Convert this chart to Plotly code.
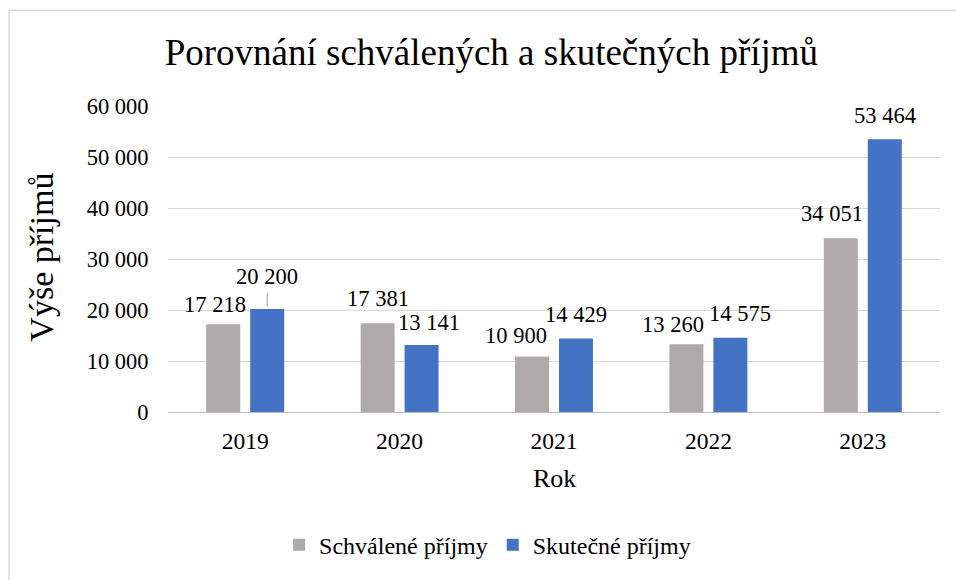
import plotly.graph_objects as go

years = ["2019", "2020", "2021", "2022", "2023"]
schvalene = [17218, 17381, 10900, 13260, 34051]
skutecne = [20200, 13141, 14429, 14575, 53464]
y_tick_vals = [0, 10000, 20000, 30000, 40000, 50000, 60000]
y_tick_text = ["0", "10 000", "20 000", "30 000", "40 000", "50 000", "60 000"]

title_text = "Porovnání schválených a skutečných příjmů"
series_names = ["Schválené příjmy", "Skutečné příjmy"]

GREY = "#AEAAAA"
BLUE = "#4472C4"
FONT = "Liberation Serif"
W, H = 956, 580
L, R, T, B = 168, 16, 106, 166
PLOT_H = H - T - B
Y_MAX = 60000

BAR_W = 0.22
HALF_GAP = 0.0324

# label nudges in pixels (dx, dy above bar top) — styling only
nudge_grey = [(-8, 20), (0, 25), (-16, 21), (-13, 20), (-9, 25)]
nudge_blue = [(0, 32), (7, 22), (0, 24), (10, 24), (0, 24)]


def fmt(v):
    return f"{v:,}".replace(",", " ")


fig = go.Figure()
fig.add_trace(go.Bar(x=years, y=schvalene, name=series_names[0], marker_color=GREY,
                     width=BAR_W, offset=-BAR_W - HALF_GAP, marker_line_width=0))
fig.add_trace(go.Bar(x=years, y=skutecne, name=series_names[1], marker_color=BLUE,
                     width=BAR_W, offset=HALF_GAP, marker_line_width=0))

px_per_cat = (W - L - R) / len(years)
bar_center = BAR_W / 2 + HALF_GAP
bar_center_px = bar_center * px_per_cat

annotations = []
for i, yr in enumerate(years):
    for vals, nud, sign in ((schvalene, nudge_grey, -1), (skutecne, nudge_blue, 1)):
        dx, dy = nud[i]
        annotations.append(dict(x=i, y=vals[i], xref="x", yref="y", text=fmt(vals[i]),
                                showarrow=False, xshift=sign * bar_center_px + dx, yshift=dy,
                                xanchor="center", yanchor="middle",
                                font=dict(family=FONT, size=22.5, color="#000")))

annotations.append(dict(text="Výše příjmů", xref="paper", yref="paper", x=-0.165,
                        y=(H - B - 258) / PLOT_H,
                        textangle=-90, showarrow=False, xanchor="center", yanchor="middle",
                        font=dict(family=FONT, size=34, color="#000")))
annotations.append(dict(text="Rok", xref="paper", yref="paper", x=0.5, y=-0.2175,
                        showarrow=False, xanchor="center", yanchor="middle",
                        font=dict(family=FONT, size=26, color="#000")))

units_per_px = Y_MAX / PLOT_H
shapes = [
    dict(type="rect", xref="paper", yref="paper",
         x0=(9 - L) / (W - L - R), x1=1.2, y0=-1.0, y1=(H - B - 9.5) / PLOT_H,
         line=dict(color="#D9D9D9", width=1.5), fillcolor="rgba(0,0,0,0)", layer="below"),
    dict(type="line", xref="x", yref="y",
         x0=0 + bar_center, x1=0 + bar_center,
         y0=skutecne[0] + 2 * units_per_px, y1=skutecne[0] + 16 * units_per_px,
         line=dict(color="#A6A6A6", width=1)),
]

fig.update_layout(
    width=W, height=H,
    margin=dict(l=L, r=R, t=T, b=B, pad=0),
    paper_bgcolor="white", plot_bgcolor="white",
    barmode="overlay",
    font=dict(family=FONT, size=24, color="#000"),
    title=dict(text=title_text, xref="container", yref="container", x=0.514, y=1 - 52 / H,
               xanchor="center", yanchor="middle", font=dict(family=FONT, size=37, color="#000")),
    showlegend=True,
    legend=dict(orientation="h", xref="paper", yref="paper", x=0.414, y=(H - B - 548) / PLOT_H,
                xanchor="center", yanchor="middle", font=dict(family=FONT, size=24, color="#000"),
                bgcolor="rgba(0,0,0,0)", traceorder="normal"),
    xaxis=dict(type="category", showgrid=False, showline=True, linecolor="#BFBFBF", linewidth=1,
               ticks="outside", ticklen=8, tickcolor="rgba(0,0,0,0)",
               tickfont=dict(family=FONT, size=23.5, color="#000"),
               range=[-0.5, len(years) - 0.5], zeroline=False),
    yaxis=dict(range=[0, Y_MAX], tickvals=y_tick_vals, ticktext=y_tick_text,
               showgrid=True, gridcolor="#D9D9D9", gridwidth=1, zeroline=False, showline=False,
               ticks="outside", ticklen=14, tickcolor="rgba(0,0,0,0)",
               tickfont=dict(family=FONT, size=22.5, color="#000")),
    annotations=annotations,
    shapes=shapes,
)

fig.write_html("out.html", config={"displayModeBar": False},
               post_script="document.body.style.margin='0';")
